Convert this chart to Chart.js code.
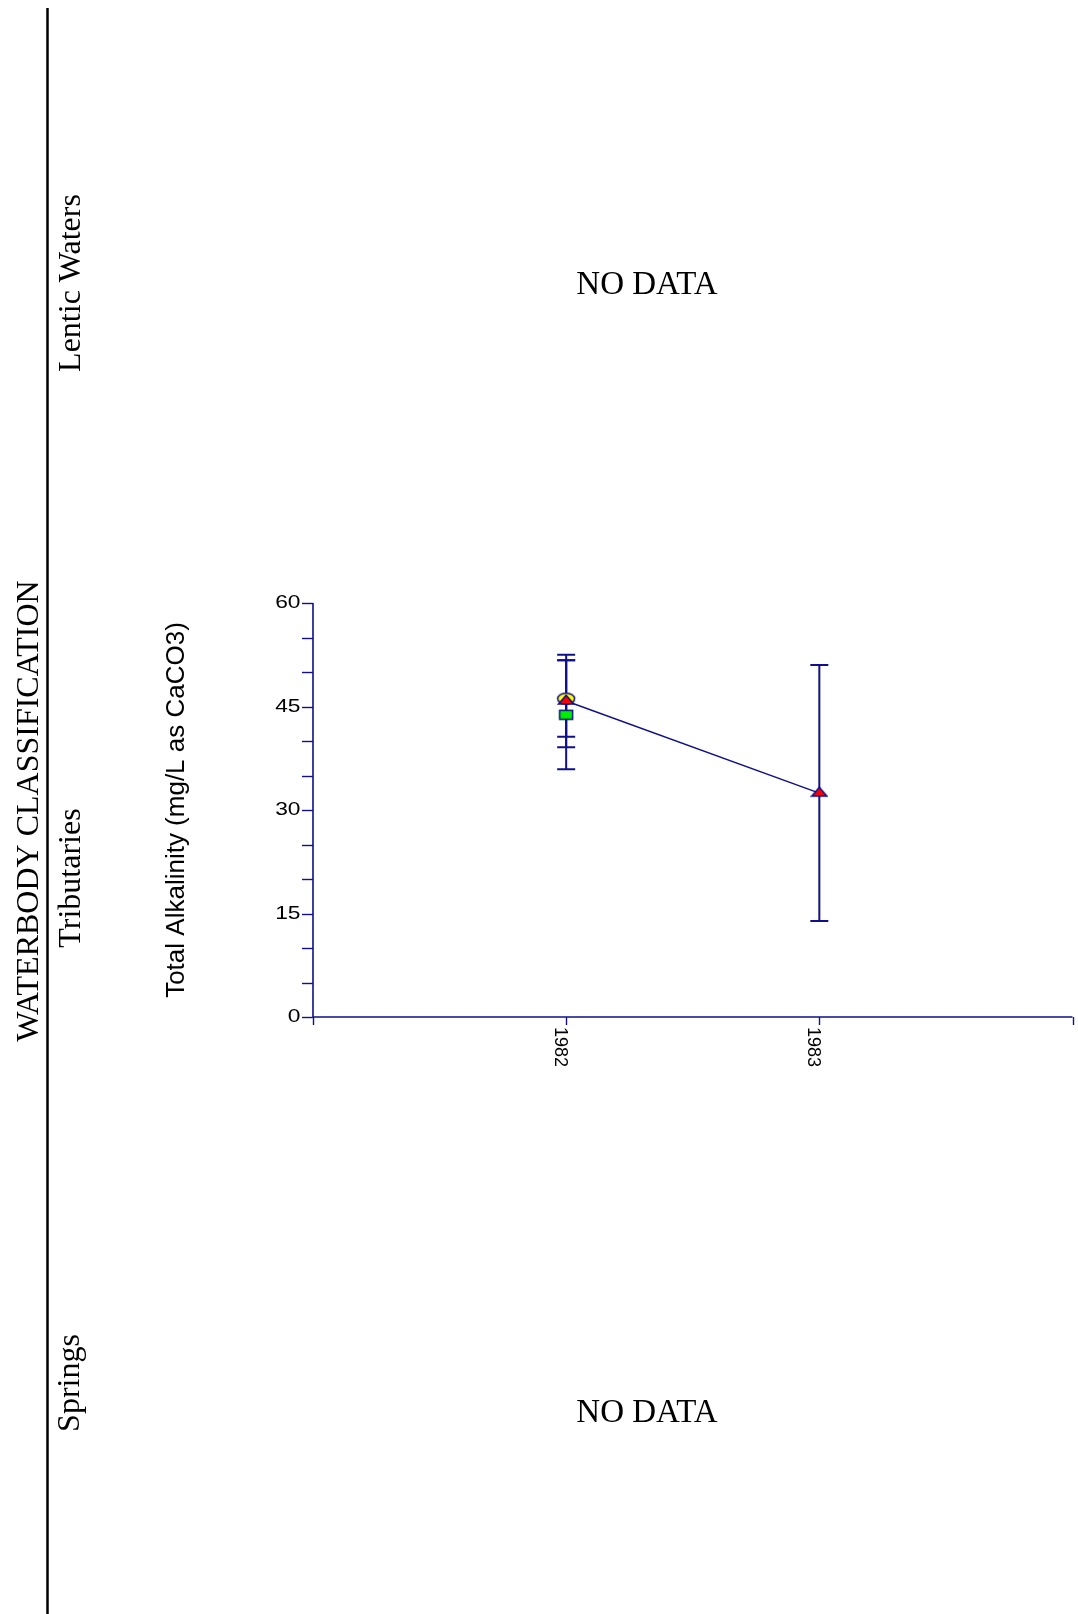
<!DOCTYPE html>
<html>
<head>
<meta charset="utf-8">
<title>Total Alkalinity by Waterbody Classification</title>
<script src="https://cdn.jsdelivr.net/npm/chart.js@4/dist/chart.umd.min.js"></script>
<style>
  html, body { margin: 0; padding: 0; background: #ffffff; }
  canvas { display: block; }
</style>
</head>
<body>
<canvas id="chart" width="1078" height="1614"></canvas>
<script>
// ---- data ----
const circleYears = [1982];
const circleMeans = [46.15];
const circleErrs = [5.55];

const triangleYears = [1982, 1983];
const triangleMeans = [45.8, 32.45];
const triangleErrs = [6.7, 18.55];

const squareYears = [1982];
const squareMeans = [43.8];
const squareErrs = [7.9];

const xTickLabels = ['1982', '1983'];
const xTickValues = [1982, 1983];
const xAxisMarks = [1981, 1982, 1983, 1984];
const yTickLabels = [0, 15, 30, 45, 60];
const yMinorStep = 5;

const groupTitle = 'WATERBODY CLASSIFICATION';
const panelNames = ['Lentic Waters', 'Tributaries', 'Springs'];
const emptyText = 'NO DATA';
const yTitle = 'Total Alkalinity (mg/L as CaCO3)';

// ---- styles ----
const NAVY = '#10108a';
const SERIF = '"Liberation Serif", "Times New Roman", serif';
const SANS = '"Liberation Sans", Arial, sans-serif';

function toPoints(xs, ys) {
  return xs.map((x, i) => ({ x: x, y: ys[i] }));
}

// marker images (drawn a little wider than tall)
function markerCanvas(w, h, draw) {
  const c = document.createElement('canvas');
  c.width = w; c.height = h;
  const g = c.getContext('2d');
  g.lineWidth = 1.5;
  g.strokeStyle = NAVY;
  draw(g);
  return c;
}
const ellipseMarker = markerCanvas(20, 14, g => {
  g.beginPath();
  g.ellipse(10, 7, 8.5, 5.6, 0, 0, Math.PI * 2);
  g.fillStyle = '#ffff00';
  g.fill(); g.stroke();
});
const triangleMarker = markerCanvas(18, 14, g => {
  g.beginPath();
  g.moveTo(9, 1.2);
  g.lineTo(16.4, 9.9);
  g.lineTo(1.6, 9.9);
  g.closePath();
  g.fillStyle = '#ff0000';
  g.fill(); g.stroke();
});
const squareMarker = markerCanvas(16, 12, g => {
  g.fillStyle = '#00ee00';
  g.fillRect(1.5, 1.5, 13, 9);
  g.strokeRect(1.5, 1.5, 13, 9);
});

// error bars, axes and surrounding labels
const framePlugin = {
  id: 'frame',
  beforeDatasetsDraw(chart) {
    const ctx = chart.ctx;
    const xs = chart.scales.x, ys = chart.scales.y;
    const area = chart.chartArea;
    ctx.save();

    // left banner: line and rotated labels
    ctx.strokeStyle = '#000000';
    ctx.lineWidth = 2.5;
    ctx.beginPath();
    ctx.moveTo(47.5, 8);
    ctx.lineTo(47.5, 1614);
    ctx.stroke();

    ctx.fillStyle = '#000000';
    ctx.font = '32px ' + SERIF;
    ctx.textAlign = 'center';
    ctx.textBaseline = 'alphabetic';
    const vText = (txt, x, y) => {
      ctx.save();
      ctx.translate(x, y);
      ctx.rotate(-Math.PI / 2);
      ctx.fillText(txt, 0, 0);
      ctx.restore();
    };
    vText(groupTitle, 38, 811);
    vText(panelNames[0], 79.5, 283);
    vText(panelNames[1], 79.5, 878);
    vText(panelNames[2], 79, 1383);

    // empty panels
    ctx.font = '33px ' + SERIF;
    ctx.fillText(emptyText, 647, 293.5);
    ctx.fillText(emptyText, 647, 1422);

    // y-axis title
    ctx.font = '26px ' + SANS;
    ctx.textBaseline = 'alphabetic';
    vText(yTitle, 184, (area.top + area.bottom) / 2);

    // axes
    ctx.strokeStyle = NAVY;
    ctx.lineWidth = 1.6;
    ctx.beginPath();
    ctx.moveTo(area.left, ys.getPixelForValue(yTickLabels[yTickLabels.length - 1]));
    ctx.lineTo(area.left, area.bottom);
    ctx.lineTo(xs.getPixelForValue(xAxisMarks[xAxisMarks.length - 1]), area.bottom);
    ctx.stroke();

    // y ticks (major and minor)
    ctx.lineWidth = 1.4;
    for (let v = ys.min; v <= ys.max; v += yMinorStep) {
      const py = Math.round(ys.getPixelForValue(v)) + 0.5;
      ctx.beginPath();
      ctx.moveTo(area.left - 11, py);
      ctx.lineTo(area.left, py);
      ctx.stroke();
    }
    // x ticks
    xAxisMarks.forEach(v => {
      const px = Math.round(xs.getPixelForValue(v)) + 0.5;
      ctx.beginPath();
      ctx.moveTo(px, area.bottom);
      ctx.lineTo(px, area.bottom + 8);
      ctx.stroke();
    });

    // y tick labels (slightly widened digits)
    ctx.fillStyle = '#000000';
    ctx.font = '19px ' + SANS;
    ctx.textAlign = 'right';
    ctx.textBaseline = 'middle';
    yTickLabels.forEach(v => {
      ctx.save();
      ctx.translate(area.left - 12.5, ys.getPixelForValue(v));
      ctx.scale(1.2, 1);
      ctx.fillText(String(v), 0, 0);
      ctx.restore();
    });

    // x tick labels, reading downward
    ctx.font = '18px ' + SANS;
    ctx.textAlign = 'left';
    ctx.textBaseline = 'middle';
    xTickValues.forEach((v, i) => {
      ctx.save();
      ctx.translate(xs.getPixelForValue(v) - 6, area.bottom + 10);
      ctx.rotate(Math.PI / 2);
      ctx.fillText(xTickLabels[i], 0, 0);
      ctx.restore();
    });

    // error bars behind the markers
    const capHalf = 9;
    chart.data.datasets.forEach(ds => {
      const errs = ds.errors || [];
      ds.data.forEach((pt, i) => {
        const e = errs[i];
        if (e == null) return;
        const px = xs.getPixelForValue(pt.x);
        const top = ys.getPixelForValue(pt.y + e);
        const bot = ys.getPixelForValue(pt.y - e);
        ctx.strokeStyle = NAVY;
        ctx.lineWidth = 2;
        ctx.beginPath();
        ctx.moveTo(px, top);
        ctx.lineTo(px, bot);
        ctx.moveTo(px - capHalf, top);
        ctx.lineTo(px + capHalf, top);
        ctx.moveTo(px - capHalf, bot);
        ctx.lineTo(px + capHalf, bot);
        ctx.stroke();
      });
    });

    ctx.restore();
  }
};

new Chart(document.getElementById('chart'), {
  type: 'line',
  data: {
    datasets: [
      {
        label: 'Triangle',
        data: toPoints(triangleYears, triangleMeans),
        errors: triangleErrs,
        borderColor: NAVY,
        borderWidth: 1.5,
        pointStyle: triangleMarker,
        showLine: true,
        order: 0
      },
      {
        label: 'Square',
        data: toPoints(squareYears, squareMeans),
        errors: squareErrs,
        borderColor: NAVY,
        pointStyle: squareMarker,
        showLine: false,
        order: 1
      },
      {
        label: 'Circle',
        data: toPoints(circleYears, circleMeans),
        errors: circleErrs,
        borderColor: NAVY,
        pointStyle: ellipseMarker,
        showLine: false,
        order: 2
      }
    ]
  },
  options: {
    responsive: false,
    animation: false,
    devicePixelRatio: 1,
    layout: { padding: { left: 313, right: 5, top: 603, bottom: 597 } },
    scales: {
      x: { type: 'linear', min: 1981, max: 1984, display: false },
      y: { type: 'linear', min: 0, max: 60, display: false }
    },
    plugins: {
      legend: { display: false },
      tooltip: { enabled: false }
    },
    elements: { line: { tension: 0 } }
  },
  plugins: [framePlugin]
});
</script>
</body>
</html>
